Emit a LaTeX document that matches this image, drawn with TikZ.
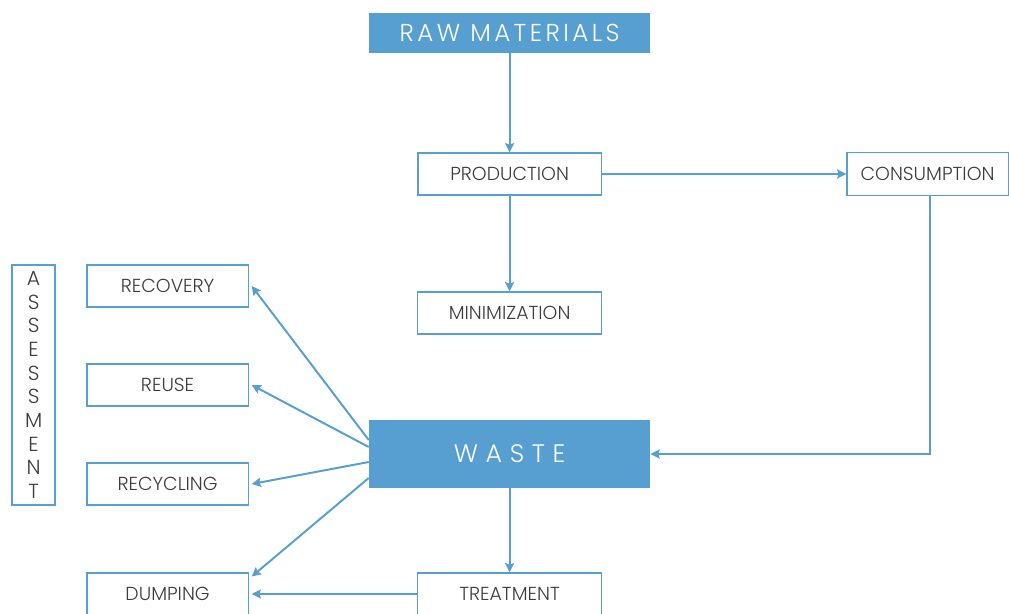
\documentclass[tikz,border=0pt]{standalone}
\usepackage{fontspec}
\setmainfont{Poppins}[UprightFont=* Light]
\usepackage{tikz}
\usetikzlibrary{arrows.meta}
\definecolor{wblue}{RGB}{88,159,209}
\definecolor{wtext}{RGB}{60,60,60}

\begin{document}
\begin{tikzpicture}[>={Stealth[length=6.5pt,width=6.5pt,inset=1pt]},
  every node/.style={font=\fontsize{13.4}{15}\selectfont, text=wtext},
  box/.style={draw=wblue, line width=1pt, inner sep=0pt, minimum width=4.03cm, minimum height=1.05cm},
  fillbox/.style={fill=wblue, inner sep=0pt, minimum width=7.03cm, text=white},
  link/.style={->, draw=wblue, line width=1.4pt}]
\useasboundingbox (0,0) rectangle (25.225,-15.325);
% main column
\node[fillbox, minimum height=1cm, font=\fontsize{17.4}{20}\selectfont\addfontfeature{LetterSpace=14}] (raw) at (12.74,-0.825) {RAW MATERIALS};
\node[box, minimum width=4.58cm] (prod) at (12.74,-4.35) {PRODUCTION};
\node[box, minimum height=1.075cm] (cons) at (23.19,-4.35) {CONSUMPTION};
\node[box, minimum width=4.6cm] (mini) at (12.74,-7.825) {MINIMIZATION};
\node[fillbox, minimum height=1.7cm, font=\fontsize{18}{20}\selectfont\addfontfeature{LetterSpace=30}] (waste) at (12.74,-11.35) {WASTE};
\node[box, minimum width=4.6cm] (treat) at (12.74,-14.85) {TREATMENT};
% left column
\node[box] (recov) at (4.19,-7.15) {RECOVERY};
\node[box] (reuse) at (4.19,-9.625) {REUSE};
\node[box] (recyc) at (4.19,-12.1) {RECYCLING};
\node[box] (dump) at (4.19,-14.85) {DUMPING};
\node[box, minimum width=1.075cm, minimum height=6cm, align=center, font=\fontsize{14.5}{16.8}\selectfont] (assess) at (0.84,-9.625) {A\\S\\S\\E\\S\\S\\M\\E\\N\\T};
% connectors
\draw[link] (raw) -- (prod);
\draw[link] (prod) -- (cons);
\draw[link] (prod) -- (mini);
\draw[link] ([xshift=2pt]cons.south) |- (waste.east);
\draw[link] ([yshift=0.35cm]waste.west) -- ([xshift=2pt]recov.east);
\draw[link] ([yshift=0.175cm]waste.west) -- ([xshift=2pt]reuse.east);
\draw[link] ([yshift=-0.2cm]waste.west) -- ([xshift=2pt]recyc.east);
\draw[link] ([yshift=-0.6cm]waste.west) -- ([xshift=2pt,yshift=-3pt]dump.north east);
\draw[link] (waste) -- (treat);
\draw[link] (treat) -- ([xshift=2pt]dump.east);
\end{tikzpicture}
\end{document}
